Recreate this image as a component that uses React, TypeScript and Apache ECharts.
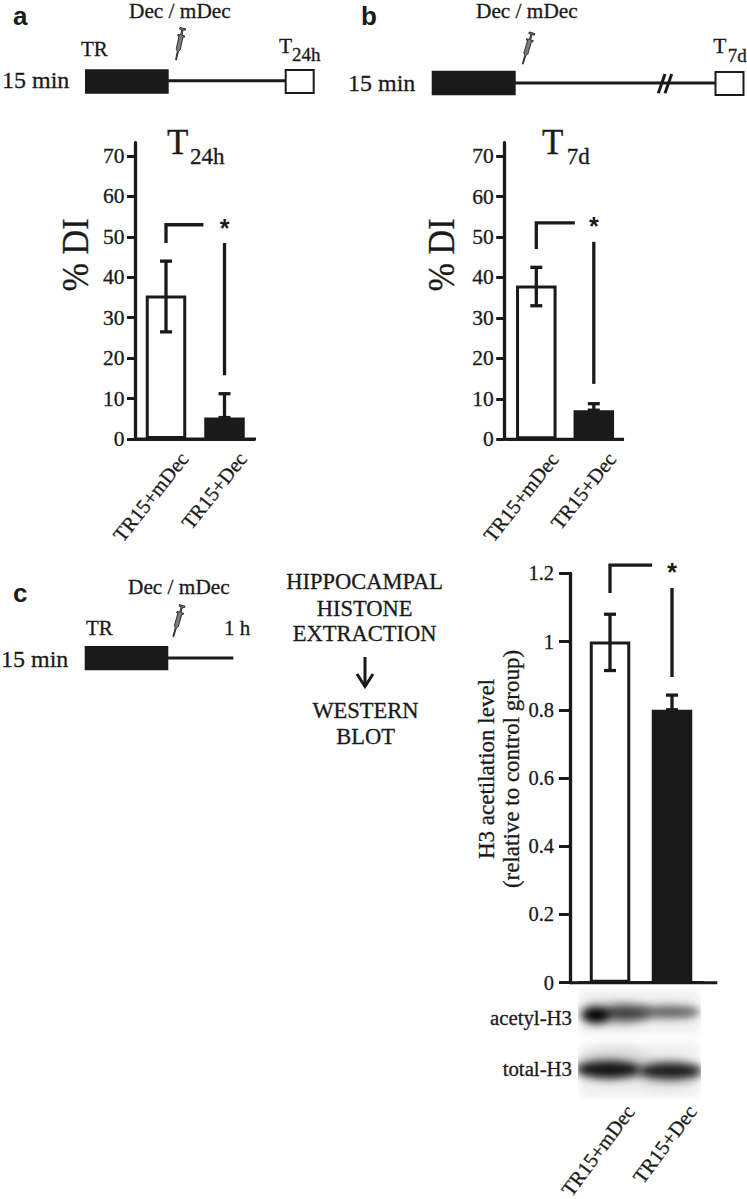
import React, { useEffect, useRef } from "react";
import * as echarts from "echarts";

const categories = ["TR15+mDec", "TR15+Dec"];

const meansA = [35.5, 5.3];
const lowA = [26.5, 5.3];
const highA = [44, 11.2];
const bracketA = [48.5, 53];
const dropA = [48.5, 15.8];
const starA = 53.8;

const meansB = [38, 7.2];
const lowB = [33, 7.2];
const highB = [42.5, 8.8];
const bracketB = [47, 53.5];
const dropB = [48.8, 13.7];
const starB = 54.2;

const meansC = [1, 0.8];
const lowC = [0.915, 0.8];
const highC = [1.08, 0.843];
const bracketC = [1.142, 1.224];
const dropC = [1.157, 0.896];
const starC = 1.221;

const ticksAB = [0, 10, 20, 30, 40, 50, 60, 70];
const ticksC = [0, 0.2, 0.4, 0.6, 0.8, 1, 1.2];

const INK = "#1a1a1a";
const SERIF = '"Liberation Serif"';
const HEAVY = 0.3;
const STROKE = 3.3;

const SYRINGE =
  "M-0.5 0L0.5 0L0.7 -9L2.4 -11L2.4 -24L4 -24L4 -25.4L0.8 -25.4L0.8 -31L3.4 -31L3.4 -32.6L-3.4 -32.6L-3.4 -31L-0.8 -31L-0.8 -25.4L-4 -25.4L-4 -24L-2.4 -24L-2.4 -11L-0.7 -9Z";

echarts.graphic.registerShape("syringe", echarts.graphic.extendPath(SYRINGE, {}));

function t(text: string, x: number, baseline: number, size: number, align = "left", extra: any = {}) {
  return {
    type: "text",
    x,
    y: baseline - 0.3 * size,
    silent: true,
    style: {
      text,
      font: `${extra.weight || "normal"} ${size}px ${extra.family || SERIF}`,
      fill: INK,
      stroke: extra.weight ? undefined : INK,
      lineWidth: extra.weight ? 0 : HEAVY,
      align,
      verticalAlign: "middle",
    },
  };
}

function vt(text: string, x: number, y: number, size: number, scaleX = 1) {
  return {
    type: "text",
    x,
    y,
    scaleX,
    rotation: Math.PI / 2,
    silent: true,
    style: {
      text,
      font: `${size}px ${SERIF}`,
      fill: INK,
      stroke: INK,
      lineWidth: HEAVY,
      align: "center",
      verticalAlign: "middle",
    },
  };
}

function seg(x1: number, y1: number, x2: number, y2: number, lineWidth = 3) {
  return { type: "line", silent: true, shape: { x1, y1, x2, y2 }, style: { stroke: INK, lineWidth } };
}

function box(x: number, y: number, width: number, height: number, fill: string, lineWidth = 0) {
  return {
    type: "rect",
    silent: true,
    shape: { x, y, width, height },
    style: { fill, stroke: lineWidth ? INK : undefined, lineWidth },
  };
}

function syringe(x: number, y: number, rotation: number) {
  return {
    type: "syringe",
    x,
    y,
    rotation,
    scaleX: 0.85,
    silent: true,
    style: { fill: "#7d7d7d", stroke: "#222", lineWidth: 0.9 },
  };
}

function blotImage() {
  const c = document.createElement("canvas");
  c.width = 123;
  c.height = 111;
  const g = c.getContext("2d") as CanvasRenderingContext2D;
  g.fillStyle = "#ffffff";
  g.fillRect(0, 0, 123, 111);
  g.filter = "blur(4px)";
  g.fillStyle = "#f0f0f0";
  g.fillRect(2, 2, 119, 44);
  g.fillRect(2, 55, 119, 54);
  const band = (cx: number, cy: number, rx: number, ry: number, col: string) => {
    g.fillStyle = col;
    g.beginPath();
    g.ellipse(cx, cy, rx, ry, 0, 0, Math.PI * 2);
    g.fill();
  };
  band(88, 24, 33, 8, "#d4d4d4");
  band(38, 25, 38, 12, "#c8c8c8");
  band(38, 76, 40, 16, "#d8d8d8");
  band(88, 85, 36, 16, "#dedede");
  band(92, 24, 30, 5.5, "#5c5c5c");
  band(48, 25, 24, 7.5, "#404040");
  band(18, 27, 14, 8, "#000000");
  band(31, 81.5, 33, 9, "#141414");
  band(92, 83, 32, 8.5, "#1c1c1c");
  return c.toDataURL("image/png");
}

function panel(
  idx: number,
  means: number[],
  low: number[],
  high: number[],
  bracket: number[],
  drop: number[],
  star: number,
  hEnd: number,
  labelDx: number,
  labelDy: number,
  labelRot: number
) {
  const common = { xAxisIndex: idx, yAxisIndex: idx, z: 5 };
  return [
    {
      ...common,
      type: "bar",
      barWidth: 40.5,
      z: 3,
      data: means.map((v, i) => ({
        value: v,
        itemStyle: { color: i === 0 ? "#ffffff" : INK, borderColor: INK, borderWidth: 3 },
      })),
    },
    {
      ...common,
      type: "custom",
      data: means.map((_, i) => [i, low[i], high[i]]),
      encode: { x: 0, y: [1, 2] },
      renderItem: (_: any, api: any) => {
        const a = api.coord([api.value(0), api.value(1)]);
        const b = api.coord([api.value(0), api.value(2)]);
        const style = { stroke: INK, lineWidth: STROKE };
        return {
          type: "group",
          children: [
            { type: "line", shape: { x1: a[0], y1: a[1], x2: b[0], y2: b[1] }, style },
            { type: "line", shape: { x1: b[0] - 6, y1: b[1], x2: b[0] + 6, y2: b[1] }, style },
            { type: "line", shape: { x1: a[0] - 6, y1: a[1], x2: a[0] + 6, y2: a[1] }, style },
          ],
        };
      },
    },
    {
      ...common,
      type: "custom",
      data: [[0, bracket[0], bracket[1], drop[0], drop[1], star]],
      encode: { x: 0, y: [1, 2, 3, 4] },
      renderItem: (_: any, api: any) => {
        const p0 = api.coord([0, api.value(1)]);
        const p1 = api.coord([0, api.value(2)]);
        const d0 = api.coord([1, api.value(3)]);
        const d1 = api.coord([1, api.value(4)]);
        const st = api.coord([1, api.value(5)]);
        const endX = p1[0] + hEnd * api.size([1, 0])[0];
        return {
          type: "group",
          children: [
            {
              type: "polyline",
              shape: { points: [[p0[0], p0[1]], [p1[0], p1[1]], [endX, p1[1]]] },
              style: { stroke: INK, lineWidth: STROKE, fill: "none" },
            },
            {
              type: "line",
              shape: { x1: d0[0], y1: d0[1], x2: d1[0], y2: d1[1] },
              style: { stroke: INK, lineWidth: STROKE },
            },
            {
              type: "text",
              x: st[0],
              y: st[1] + 6,
              style: {
                text: "*",
                font: 'bold 25px "Liberation Sans"',
                fill: INK,
                align: "center",
                verticalAlign: "middle",
              },
            },
          ],
        };
      },
    },
    {
      ...common,
      type: "custom",
      data: categories.map((_, i) => [i, 0]),
      encode: { x: 0, y: 1 },
      renderItem: (p: any, api: any) => {
        const c = api.coord([api.value(0), 0]);
        return {
          type: "text",
          x: c[0] + labelDx,
          y: c[1] + labelDy,
          rotation: labelRot,
          style: {
            text: categories[p.dataIndex],
            font: `20.5px ${SERIF}`,
            fill: INK,
            stroke: INK,
            lineWidth: HEAVY,
            align: "right",
            verticalAlign: "middle",
          },
        };
      },
    },
  ];
}

function yAxis(gridIndex: number, max: number, ticks: number[], offset: number, tickLen: number, size: number, margin: number) {
  return {
    gridIndex,
    type: "value",
    min: 0,
    max,
    offset,
    splitLine: { show: false },
    axisLine: { show: true, lineStyle: { color: INK, width: STROKE } },
    axisTick: { show: true, length: tickLen, lineStyle: { color: INK, width: 3 }, customValues: ticks },
    axisLabel: {
      show: true,
      customValues: ticks,
      margin,
      color: INK,
      fontFamily: "Liberation Serif",
      fontSize: size,
      textBorderColor: INK,
      textBorderWidth: HEAVY,
    },
  };
}

function xAxis(gridIndex: number) {
  return {
    gridIndex,
    type: "category",
    data: categories,
    axisLine: { show: true, onZero: false, lineStyle: { color: INK, width: 3 } },
    axisTick: { show: false },
    axisLabel: { show: false },
  };
}

export default function App() {
  const ref = useRef<HTMLDivElement>(null);
  useEffect(() => {
    document.body.style.margin = "0";
    const chart = echarts.init(ref.current as HTMLDivElement, undefined, { renderer: "svg" });
    const graphic: any[] = [
      // panel letters
      t("a", 13, 24, 26, "left", { weight: "bold", family: '"Liberation Sans"' }),
      t("b", 361, 24, 26, "left", { weight: "bold", family: '"Liberation Sans"' }),
      t("c", 13, 601, 26, "left", { weight: "bold", family: '"Liberation Sans"' }),
      // schematic a
      t("Dec / mDec", 129, 17.5, 21.3),
      t("TR", 81, 55, 21),
      t("15 min", 2, 87, 24),
      t("T", 279, 52, 21.5),
      t("24h", 292, 60, 19),
      box(85, 69.3, 83.7, 24.4, INK),
      seg(168, 80.7, 286, 80.7),
      box(285.7, 70, 28, 23, "#fff", 2),
      syringe(176, 60, -0.21),
      // schematic b
      t("Dec / mDec", 476, 17.5, 21.3),
      t("15 min", 348, 90, 24),
      t("T", 713.3, 52, 21.5),
      t("7d", 727.7, 61, 19),
      box(431.7, 70.7, 84, 24.6, INK),
      seg(515, 83, 716, 83),
      seg(658.3, 93.3, 665, 74),
      seg(665, 93.3, 671.7, 74),
      box(715.5, 72, 28, 23, "#fff", 2),
      syringe(522.7, 64, -0.29),
      // schematic c
      t("Dec / mDec", 128, 593, 21.3),
      t("TR", 86, 634, 21),
      t("1 h", 224, 634, 21),
      t("15 min", 1, 666, 24),
      box(84.7, 646, 83.6, 24.3, INK),
      seg(168, 658, 233.3, 658),
      syringe(173.3, 636.7, -0.28),
      // protocol text
      t("HIPPOCAMPAL", 364.7, 588, 22.5, "center"),
      t("HISTONE", 364.7, 615, 22.5, "center"),
      t("EXTRACTION", 364.7, 640, 22.5, "center"),
      t("WESTERN", 365.5, 717, 22.5, "center"),
      t("BLOT", 365.5, 743, 22.5, "center"),
      seg(365, 657, 365, 686),
      {
        type: "polyline",
        silent: true,
        shape: { points: [[357, 674], [365, 686.5], [373, 674]] },
        style: { stroke: INK, lineWidth: 3, fill: "none" },
      },
      // titles
      t("T", 167, 153, 35),
      t("24h", 190, 163, 23),
      t("T", 542, 153, 35),
      t("7d", 566.7, 163, 23),
      // y names
      vt("% DI", 75.5, 255, 38, 0.9),
      vt("% DI", 441, 255, 38, 0.9),
      vt("H3 acetilation level", 486, 769, 23),
      vt("(relative to control group)", 511, 769, 23),
      // x axis stubs
      seg(135.5, 439, 256, 439),
      seg(504.7, 439.3, 624, 439.3),
      seg(570, 982.7, 717.3, 982.7),
      // blots
      { type: "image", silent: true, style: { image: blotImage(), x: 578, y: 988, width: 123, height: 111 } },
      t("acetyl-H3", 572, 1024, 20.8, "right"),
      t("total-H3", 572, 1075, 20.8, "right"),
    ];
    chart.setOption({
      animation: false,
      backgroundColor: "#ffffff",
      grid: [
        { left: 136.75, width: 117, top: 142.7, height: 296.3 },
        { left: 507.55, width: 115, top: 142.7, height: 296.6 },
        { left: 579, width: 124, top: 573.3, height: 409.4 },
      ],
      xAxis: [xAxis(0), xAxis(1), xAxis(2)],
      yAxis: [
        yAxis(0, 73.3, ticksAB, 1.25, 8.5, 21.5, 11),
        yAxis(1, 73.3, ticksAB, 2.85, 8.5, 21.5, 11),
        yAxis(2, 1.2, ticksC, 9, 11, 20.5, 16),
      ],
      series: [
        ...panel(0, meansA, lowA, highA, bracketA, dropA, starA, 0.64, 18, 16, 0.9),
        ...panel(1, meansB, lowB, highB, bracketB, dropB, starB, 0.67, 18, 16, 0.9),
        ...panel(2, meansC, lowC, highC, bracketC, dropC, starC, 0.68, 20, 125, 0.93),
      ],
      graphic,
    });
    return () => chart.dispose();
  }, []);
  return <div ref={ref} style={{ width: 747, height: 1199 }} />;
}
